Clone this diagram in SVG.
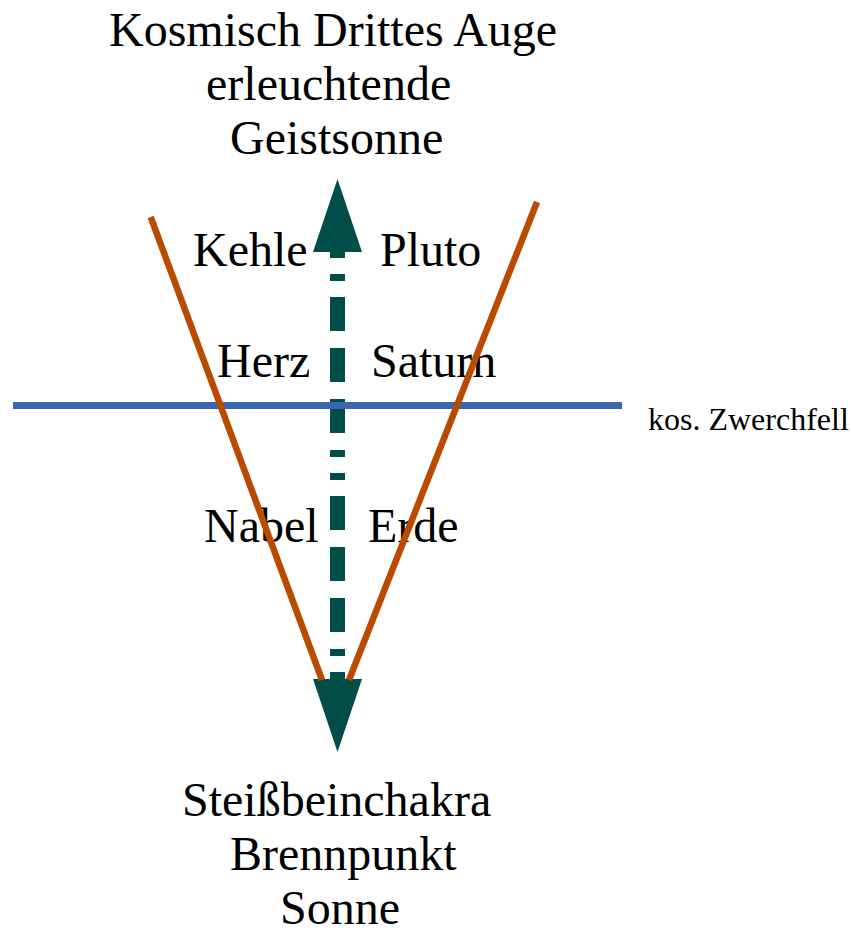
<svg xmlns="http://www.w3.org/2000/svg" width="852" height="933" viewBox="0 0 852 933">
<style>
.t{font-family:"Liberation Serif","Times New Roman",serif;font-size:48px;fill:#000}
.s{font-family:"Liberation Serif","Times New Roman",serif;font-size:32px;fill:#000}
.teal{fill:#004d4a}
.shaft{stroke:#004d4a;stroke-width:15;fill:none;stroke-dasharray:34 17 34 17 34 17 7 16 7 16;stroke-dashoffset:153}
.blue{stroke:#3a66b0;stroke-width:7;fill:none}
.orange{stroke:#ba4a00;stroke-width:6.5;fill:none}
</style>
<rect width="852" height="933" fill="#fff"/>
<g id="top-label">
<text class="t" x="109" y="46">Kosmisch Drittes Auge</text>
<text class="t" x="206" y="100">erleuchtende</text>
<text class="t" x="230" y="154">Geistsonne</text>
</g>
<g id="kehle"><text class="t" x="193" y="266">Kehle</text></g>
<g id="pluto"><text class="t" x="380" y="266">Pluto</text></g>
<g id="herz"><text class="t" x="217" y="377">Herz</text></g>
<g id="saturn"><text class="t" x="371" y="377">Saturn</text></g>
<g id="nabel"><text class="t" x="204" y="542">Nabel</text></g>
<g id="erde"><text class="t" x="368" y="542">Erde</text></g>
<g id="zwerchfell"><text class="s" x="648" y="430">kos. Zwerchfell</text></g>
<g id="bottom-label">
<text class="t" x="182" y="816">Steißbeinchakra</text>
<text class="t" x="230" y="870">Brennpunkt</text>
<text class="t" x="280" y="924">Sonne</text>
</g>
<g id="connectors">
<line class="shaft" x1="337.5" y1="251" x2="337.5" y2="680"/>
<polygon class="teal" points="337.5,179 313,252 362,252"/>
<polygon class="teal" points="313,679 362,679 337.5,752"/>
<line class="blue" x1="13" y1="405.5" x2="622" y2="405.5"/>
<line class="orange" x1="150.7" y1="217" x2="322" y2="680"/>
<line class="orange" x1="537" y1="202" x2="349" y2="680"/>
</g>
</svg>
